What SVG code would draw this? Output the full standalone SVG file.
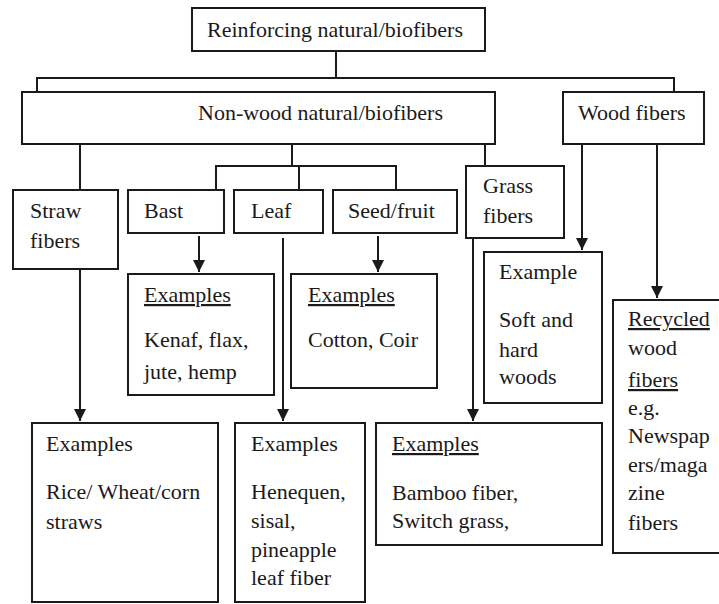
<svg xmlns="http://www.w3.org/2000/svg" width="719" height="604" viewBox="0 0 719 604">
<style>
  .box { fill: #fff; stroke: #1a1a1a; stroke-width: 2; }
  .ln { fill: none; stroke: #1a1a1a; stroke-width: 2; }
  text { font-family: "Liberation Serif", "Times New Roman", serif; font-size: 22px; fill: #1a1a1a; }
  .u { text-decoration: underline; }
</style>
<defs>
  <marker id="arr" markerUnits="userSpaceOnUse" markerWidth="14" markerHeight="14" refX="12" refY="6" orient="auto">
    <path d="M0,0 L12,6 L0,12 Z" fill="#1a1a1a"/>
  </marker>
</defs>
<rect width="719" height="604" fill="#fff"/>
<g id="connectors">
  <path class="ln" d="M336,51 V78"/>
  <path class="ln" d="M37,92 V78 H674 V92"/>
  <path class="ln" d="M80,144 V190"/>
  <path class="ln" d="M80,269 V421" marker-end="url(#arr)"/>
  <path class="ln" d="M292,144 V166"/>
  <path class="ln" d="M216,190 V166 H396 V190"/>
  <path class="ln" d="M299,166 V190"/>
  <path class="ln" d="M199,236 V272" marker-end="url(#arr)"/>
  <path class="ln" d="M283,238 V421" marker-end="url(#arr)"/>
  <path class="ln" d="M378,236 V272" marker-end="url(#arr)"/>
  <path class="ln" d="M485,144 V166"/>
  <path class="ln" d="M473,238 V421" marker-end="url(#arr)"/>
  <path class="ln" d="M582,144 V250" marker-end="url(#arr)"/>
  <path class="ln" d="M657,144 V298" marker-end="url(#arr)"/>
</g>
<g id="root">
  <rect class="box" x="192" y="8" width="293" height="43"/>
  <text x="207" y="37">Reinforcing natural/biofibers</text>
</g>
<g id="nonwood">
  <rect class="box" x="22" y="92" width="473" height="52"/>
  <text x="198" y="120">Non-wood natural/biofibers</text>
</g>
<g id="wood">
  <rect class="box" x="563" y="92" width="141" height="52"/>
  <text x="578" y="120">Wood fibers</text>
</g>
<g id="straw">
  <rect class="box" x="13" y="190" width="105" height="79"/>
  <text x="30" y="218">Straw</text>
  <text x="30" y="248">fibers</text>
</g>
<g id="bast">
  <rect class="box" x="128" y="190" width="96" height="43"/>
  <text x="144" y="218">Bast</text>
</g>
<g id="leaf">
  <rect class="box" x="234" y="190" width="89" height="43"/>
  <text x="251" y="218">Leaf</text>
</g>
<g id="seed">
  <rect class="box" x="333" y="190" width="124" height="43"/>
  <text x="348" y="218">Seed/fruit</text>
</g>
<g id="grass">
  <rect class="box" x="466" y="166" width="98" height="72"/>
  <text x="483" y="193">Grass</text>
  <text x="483" y="223">fibers</text>
</g>
<g id="bast-examples">
  <rect class="box" x="128" y="274" width="146" height="121"/>
  <text class="u" x="144" y="302">Examples</text>
  <text x="144" y="347">Kenaf, flax,</text>
  <text x="144" y="379">jute, hemp</text>
</g>
<g id="seed-examples">
  <rect class="box" x="291" y="274" width="146" height="114"/>
  <text class="u" x="308" y="302">Examples</text>
  <text x="308" y="347">Cotton, Coir</text>
</g>
<g id="wood-example">
  <rect class="box" x="484" y="252" width="118" height="151"/>
  <text x="499" y="279">Example</text>
  <text x="499" y="327">Soft and</text>
  <text x="499" y="357">hard</text>
  <text x="499" y="384">woods</text>
</g>
<g id="recycled">
  <rect class="box" x="613" y="300" width="120" height="253"/>
  <text class="u" x="628" y="326">Recycled</text>
  <text x="628" y="355">wood</text>
  <text class="u" x="628" y="387">fibers</text>
  <text x="628" y="415">e.g.</text>
  <text x="628" y="443">Newspap</text>
  <text x="628" y="472">ers/maga</text>
  <text x="628" y="500">zine</text>
  <text x="628" y="530">fibers</text>
</g>
<g id="straw-examples">
  <rect class="box" x="32" y="423" width="186" height="179"/>
  <text x="46" y="451">Examples</text>
  <text x="46" y="499">Rice/ Wheat/corn</text>
  <text x="46" y="529">straws</text>
</g>
<g id="leaf-examples">
  <rect class="box" x="235" y="423" width="130" height="179"/>
  <text x="251" y="451">Examples</text>
  <text x="251" y="499">Henequen,</text>
  <text x="251" y="528">sisal,</text>
  <text x="251" y="557">pineapple</text>
  <text x="251" y="585">leaf fiber</text>
</g>
<g id="grass-examples">
  <rect class="box" x="376" y="423" width="226" height="122"/>
  <text class="u" x="392" y="451">Examples</text>
  <text x="392" y="500">Bamboo fiber,</text>
  <text x="392" y="528">Switch grass,</text>
</g>
</svg>
